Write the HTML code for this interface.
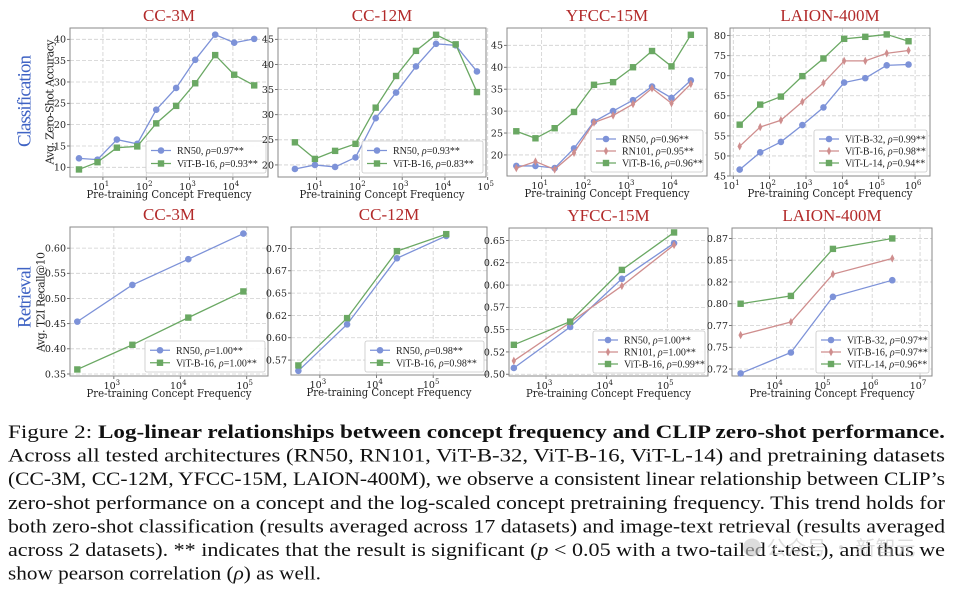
<!DOCTYPE html>
<html><head><meta charset="utf-8"><style>
html,body{margin:0;padding:0;background:#fff;width:955px;height:595px;overflow:hidden}
svg{display:block}
.tk{font-family:"DejaVu Serif","Liberation Serif",serif;font-size:9.5px;fill:#222}
.lg{font-family:"Liberation Serif","DejaVu Serif",serif;font-size:10px;fill:#222}
.xt{font-family:"DejaVu Serif","Liberation Serif",serif;font-size:11px;fill:#222}
.ttl{font-family:"Liberation Serif","DejaVu Serif",serif;font-size:17px;fill:#b22a2a}
.cap{font-family:"Liberation Serif","DejaVu Serif",serif;font-size:18.5px;fill:#111}
</style></head><body>
<svg id="fig" width="955" height="595" viewBox="0 0 955 595" xmlns="http://www.w3.org/2000/svg">
<text x="25" y="101" transform="rotate(-90 25 101)" text-anchor="middle" dominant-baseline="central" font-family="Liberation Serif,serif" font-size="19" fill="#3f63c4" textLength="92">Classification</text>
<text x="25" y="297" transform="rotate(-90 25 297)" text-anchor="middle" dominant-baseline="central" font-family="Liberation Serif,serif" font-size="19" fill="#3f63c4" textLength="62">Retrieval</text>
<text x="50" y="102" transform="rotate(-90 50 102)" text-anchor="middle" dominant-baseline="central" class="xt" textLength="125">Avg. Zero-Shot Accuracy</text>
<text x="41" y="302" transform="rotate(-90 41 302)" text-anchor="middle" dominant-baseline="central" class="xt" textLength="100">Avg. T2I Recall@10</text>
<g id="plots"></g>
<g>
<text class="cap" x="8" y="438" textLength="937" lengthAdjust="spacingAndGlyphs">Figure 2: <tspan font-weight="bold">Log-linear relationships between concept frequency and CLIP zero-shot performance.</tspan></text>
<text class="cap" x="8" y="461.6" textLength="937" lengthAdjust="spacingAndGlyphs">Across all tested architectures (RN50, RN101, ViT-B-32, ViT-B-16, ViT-L-14) and pretraining datasets</text>
<text class="cap" x="8" y="485.2" textLength="937" lengthAdjust="spacingAndGlyphs">(CC-3M, CC-12M, YFCC-15M, LAION-400M), we observe a consistent linear relationship between CLIP’s</text>
<text class="cap" x="8" y="508.8" textLength="937" lengthAdjust="spacingAndGlyphs">zero-shot performance on a concept and the log-scaled concept pretraining frequency. This trend holds for</text>
<text class="cap" x="8" y="532.4" textLength="937" lengthAdjust="spacingAndGlyphs">both zero-shot classification (results averaged across 17 datasets) and image-text retrieval (results averaged</text>
<text class="cap" x="8" y="556" textLength="937" lengthAdjust="spacingAndGlyphs">across 2 datasets). ** indicates that the result is significant (<tspan font-style="italic">p</tspan> &lt; 0.05 with a two-tailed t-test.), and thus we</text>
<text class="cap" x="8" y="579.6" textLength="313" lengthAdjust="spacingAndGlyphs">show pearson correlation (<tspan font-style="italic">ρ</tspan>) as well.</text>
</g>
<text x="742" y="555" font-family="Noto Sans CJK SC,sans-serif" font-size="20" fill="#c8c8c8" opacity="0.6">● 公众号 · 新智元</text>
</svg>
<script>
// ---- data (concept frequencies and metric values) ----
const cc3mClsFreq=[2.8,7.5,21,62,170,490,1350,3900,10700,31000];
const cc3mClsRN50=[12.1,11.8,16.5,15.5,23.5,28.6,35.2,41.1,39.2,40.1];
const cc3mClsViTB16=[9.5,11.2,14.6,14.9,20.3,24.4,29.7,36.3,31.7,29.2];
const cc12mClsFreq=[3.1,9.1,27,81,240,720,2100,6200,17800,56000];
const cc12mClsRN50=[19.2,20.0,19.6,21.5,29.3,34.4,39.6,44.1,43.8,38.6];
const cc12mClsViTB16=[24.5,21.2,22.8,24.2,31.4,37.7,42.7,45.9,44.0,34.5];
const yfccClsFreq=[2.6,7.2,20,56,162,447,1290,3550,10000,28000];
const yfccClsRN50=[17.5,17.5,17.0,21.5,27.6,30.0,32.5,35.6,33.0,37.0];
const yfccClsRN101=[17.0,18.5,16.7,20.5,27.4,29.0,31.6,35.2,31.8,36.2];
const yfccClsViTB16=[25.4,23.8,26.1,29.8,36.0,36.6,40.0,43.7,40.2,47.4];
const laionClsFreq=[15,55,204,794,3020,11200,42700,166000,660000];
const laionClsViTB32=[46.6,50.9,53.5,57.7,62.1,68.3,69.4,72.6,72.8];
const laionClsViTB16=[52.4,57.2,58.9,63.5,68.2,73.7,73.7,75.6,76.3];
const laionClsViTL14=[57.8,62.8,64.8,69.9,74.3,79.2,79.7,80.3,78.6];
const cc3mRetFreq=[282,1900,13200,89000];
const cc3mRetRN50=[0.454,0.527,0.578,0.629];
const cc3mRetViTB16=[0.359,0.408,0.462,0.514];
const cc12mRetFreq=[417,3020,22900,170000];
const cc12mRetRN50=[0.563,0.615,0.689,0.714];
const cc12mRetViTB16=[0.569,0.622,0.697,0.716];
const yfccRetFreq=[295,2500,17800,129000];
const yfccRetRN50=[0.507,0.553,0.607,0.647];
const yfccRetRN101=[0.515,0.558,0.599,0.645];
const yfccRetViTB16=[0.533,0.559,0.617,0.659];
const laionRetFreq=[1780,20000,151000,2630000];
const laionRetViTB32=[0.720,0.744,0.808,0.827];
const laionRetViTB16=[0.764,0.779,0.834,0.852];
const laionRetViTL14=[0.800,0.809,0.863,0.875];
// tick labels
const clsTicks1040=[10,15,20,25,30,35,40];
const clsTicks2045=[20,25,30,35,40,45];
const clsTicks4580=[45,50,55,60,65,70,75,80];
const retTicksCC3M=[0.35,0.40,0.45,0.50,0.55,0.60];
const retTicksCC12M=[0.575,0.60,0.625,0.65,0.675,0.70];
const retLabelsCC12M=["0.57","0.60","0.62","0.65","0.67","0.70"];
const retTicksYFCC=[0.50,0.525,0.55,0.575,0.60,0.625,0.65];
const retLabelsYFCC=["0.50","0.52","0.55","0.57","0.60","0.62","0.65"];
const retTicksLAION=[0.725,0.75,0.775,0.80,0.825,0.85,0.875];
const retLabelsLAION=["0.72","0.75","0.77","0.80","0.82","0.85","0.87"];
const rhoCC3MCls=["0.97","0.93"], rhoCC12MCls=["0.93","0.83"], rhoYFCCCls=["0.96","0.95","0.96"], rhoLAIONCls=["0.99","0.98","0.94"];
const rhoCC3MRet=["1.00","1.00"], rhoCC12MRet=["0.98","0.98"], rhoYFCCRet=["1.00","1.00","0.99"], rhoLAIONRet=["0.97","0.97","0.96"];

const NS="http://www.w3.org/2000/svg";
const BLUE="#7d92d8", RED="#cf8e8e", GREEN="#6aa863";
function mk(tag,attrs,parent){const e=document.createElementNS(NS,tag);for(const k in attrs)e.setAttribute(k,attrs[k]);parent.appendChild(e);return e;}
function marker(g,type,x,y,c){
  if(type==='o'){return mk('circle',{cx:x,cy:y,r:3.3,fill:c},g);}
  if(type==='s'){return mk('rect',{x:x-3.2,y:y-3.2,width:6.4,height:6.4,fill:c},g);}
  return mk('path',{d:`M${x} ${y-4.2}L${x+2.2} ${y}L${x} ${y+4.2}L${x-2.2} ${y}Z`,fill:c},g);
}
const root=document.getElementById('plots');
function panel(p){
  const g=mk('g',{},root);
  
  
  const [L,T,R,B]=p.box;
  const sx=v=>L+(Math.log10(v)-p.xr[0])/(p.xr[1]-p.xr[0])*(R-L);
  const sy=v=>B-(v-p.yr[0])/(p.yr[1]-p.yr[0])*(B-T);
  mk('rect',{x:L,y:T,width:R-L,height:B-T,fill:'#fff'},g);
  p.xt.forEach(e=>{const x=L+(e-p.xr[0])/(p.xr[1]-p.xr[0])*(R-L);
    mk('line',{x1:x,x2:x,y1:T,y2:B,stroke:'#cfcfcf','stroke-width':0.8,'stroke-dasharray':'4 2'},g);
    mk('line',{x1:x,x2:x,y1:B,y2:B+3,stroke:'#555','stroke-width':0.8},g);
    const t=mk('text',{x:x-2,y:B+13,'text-anchor':'middle',class:'tk'},g);
    
    
    t.textContent='10';const s=mk('tspan',{dy:-4,'font-size':7},t);s.textContent=String(e);});
  p.yt.forEach((v,i)=>{const y=sy(v);
    mk('line',{x1:L,x2:R,y1:y,y2:y,stroke:'#cfcfcf','stroke-width':0.8,'stroke-dasharray':'4 2'},g);
    mk('line',{x1:L-3,x2:L,y1:y,y2:y,stroke:'#555','stroke-width':0.8},g);
    const t=mk('text',{x:L-4,y:y+3.4,'text-anchor':'end',class:'tk','font-size':9},g);
    
    
    t.textContent=p.yl?p.yl[i]:String(v);});
  mk('rect',{x:L,y:T,width:R-L,height:B-T,fill:'none',stroke:'#8a8a8a','stroke-width':1},g);
  p.series.forEach(s=>{
    const sg=mk('g',{},g);
    
    
    const pts=s.y.map((v,i)=>[sx(p.x[i]),sy(v)]);
    mk('polyline',{points:pts.map(q=>q.join(',')).join(' '),fill:'none',stroke:s.c,'stroke-width':1.3},sg);
    pts.forEach(q=>{const m=marker(sg,s.m,q[0],q[1],s.c);
      
      });
  });
  const [lx,ly,lw,lh]=p.leg;
  const lg=mk('g',{},g);
  
  
  mk('rect',{x:lx,y:ly,width:lw,height:lh,rx:2,fill:'#fff','fill-opacity':0.9,stroke:'#c8c8c8','stroke-width':0.8},lg);
  const n=p.series.length, step=(lh-6)/n;
  p.series.forEach((s,i)=>{const yy=ly+3+step*(i+0.5);
    const eg=mk('g',{},lg);
    
    
    mk('line',{x1:lx+5,x2:lx+25,y1:yy,y2:yy,stroke:s.c,'stroke-width':1.3},eg);
    marker(eg,s.m,lx+15,yy,s.c);
    const t=mk('text',{x:lx+31,y:yy+3.5,class:'lg'},eg);
    t.textContent=s.label+', ';const r=mk('tspan',{'font-style':'italic'},t);r.textContent='ρ';
    const r2=mk('tspan',{},t);r2.textContent='='+s.rho+'**';});
  const tt=mk('text',{x:(L+R)/2,y:T-7,'text-anchor':'middle',class:'ttl'},g);
  
  
  tt.textContent=p.title;
  const xt=mk('text',{x:(L+R)/2,y:B+21,'text-anchor':'middle',class:'xt',textLength:165,lengthAdjust:'spacingAndGlyphs'},g);
  
  
  xt.textContent='Pre-training Concept Frequency';
}
panel({name:'cc3m-classification-chart',title:'CC-3M',box:[70,28,268,177],xr:[0.24,4.81],yr:[7.73,42.65],xt:[1,2,3,4],yt:clsTicks1040,x:cc3mClsFreq,
  series:[{label:'RN50',y:cc3mClsRN50,c:BLUE,m:'o',rho:rhoCC3MCls[0]},{label:'ViT-B-16',y:cc3mClsViTB16,c:GREEN,m:'s',rho:rhoCC3MCls[1]}],leg:[146,141,120,32]});
panel({name:'cc12m-classification-chart',title:'CC-12M',box:[278,28,486,177],xr:[0.096,4.96],yr:[17.6,47.25],xt:[1,2,3,4,5],yt:clsTicks2045,x:cc12mClsFreq,
  series:[{label:'RN50',y:cc12mClsRN50,c:BLUE,m:'o',rho:rhoCC12MCls[0]},{label:'ViT-B-16',y:cc12mClsViTB16,c:GREEN,m:'s',rho:rhoCC12MCls[1]}],leg:[362,141,121,32]});
panel({name:'yfcc15m-classification-chart',title:'YFCC-15M',box:[507,28,707,176],xr:[0.2,4.82],yr:[15.2,48.95],xt:[1,2,3,4],yt:clsTicks2045,x:yfccClsFreq,
  series:[{label:'RN50',y:yfccClsRN50,c:BLUE,m:'o',rho:rhoYFCCCls[0]},{label:'RN101',y:yfccClsRN101,c:RED,m:'d',rho:rhoYFCCCls[1]},{label:'ViT-B-16',y:yfccClsViTB16,c:GREEN,m:'s',rho:rhoYFCCCls[2]}],leg:[591,130,112,42]});
panel({name:'laion400m-classification-chart',title:'LAION-400M',box:[730,28,930,176],xr:[0.91,6.41],yr:[45,81.9],xt:[1,2,3,4,5,6],yt:clsTicks4580,x:laionClsFreq,
  series:[{label:'ViT-B-32',y:laionClsViTB32,c:BLUE,m:'o',rho:rhoLAIONCls[0]},{label:'ViT-B-16',y:laionClsViTB16,c:RED,m:'d',rho:rhoLAIONCls[1]},{label:'ViT-L-14',y:laionClsViTL14,c:GREEN,m:'s',rho:rhoLAIONCls[2]}],leg:[814,130,113,42]});
panel({name:'cc3m-retrieval-chart',title:'CC-3M',box:[70,227,268,376],xr:[2.34,5.32],yr:[0.346,0.642],xt:[3,4,5],yt:retTicksCC3M,yl:retTicksCC3M.map(v=>v.toFixed(2)),x:cc3mRetFreq,
  series:[{label:'RN50',y:cc3mRetRN50,c:BLUE,m:'o',rho:rhoCC3MRet[0]},{label:'ViT-B-16',y:cc3mRetViTB16,c:GREEN,m:'s',rho:rhoCC3MRet[1]}],leg:[145,341,120,31]});
panel({name:'cc12m-retrieval-chart',title:'CC-12M',box:[291,227,487,375],xr:[2.49,5.95],yr:[0.5583,0.724],xt:[3,4,5],yt:retTicksCC12M,yl:retLabelsCC12M,x:cc12mRetFreq,
  series:[{label:'RN50',y:cc12mRetRN50,c:BLUE,m:'o',rho:rhoCC12MRet[0]},{label:'ViT-B-16',y:cc12mRetViTB16,c:GREEN,m:'s',rho:rhoCC12MRet[1]}],leg:[365,341,119,31]});
panel({name:'yfcc15m-retrieval-chart',title:'YFCC-15M',box:[509,228,708,376],xr:[2.39,5.67],yr:[0.498,0.664],xt:[3,4,5],yt:retTicksYFCC,yl:retLabelsYFCC,x:yfccRetFreq,
  series:[{label:'RN50',y:yfccRetRN50,c:BLUE,m:'o',rho:rhoYFCCRet[0]},{label:'RN101',y:yfccRetRN101,c:RED,m:'d',rho:rhoYFCCRet[1]},{label:'ViT-B-16',y:yfccRetViTB16,c:GREEN,m:'s',rho:rhoYFCCRet[2]}],leg:[593,331,112,42]});
panel({name:'laion400m-retrieval-chart',title:'LAION-400M',box:[732,228,932,376],xr:[3.07,7.25],yr:[0.717,0.887],xt:[4,5,6,7],yt:retTicksLAION,yl:retLabelsLAION,x:laionRetFreq,
  series:[{label:'ViT-B-32',y:laionRetViTB32,c:BLUE,m:'o',rho:rhoLAIONRet[0]},{label:'ViT-B-16',y:laionRetViTB16,c:RED,m:'d',rho:rhoLAIONRet[1]},{label:'ViT-L-14',y:laionRetViTL14,c:GREEN,m:'s',rho:rhoLAIONRet[2]}],leg:[816,331,113,42]});
</script>
</body></html>
